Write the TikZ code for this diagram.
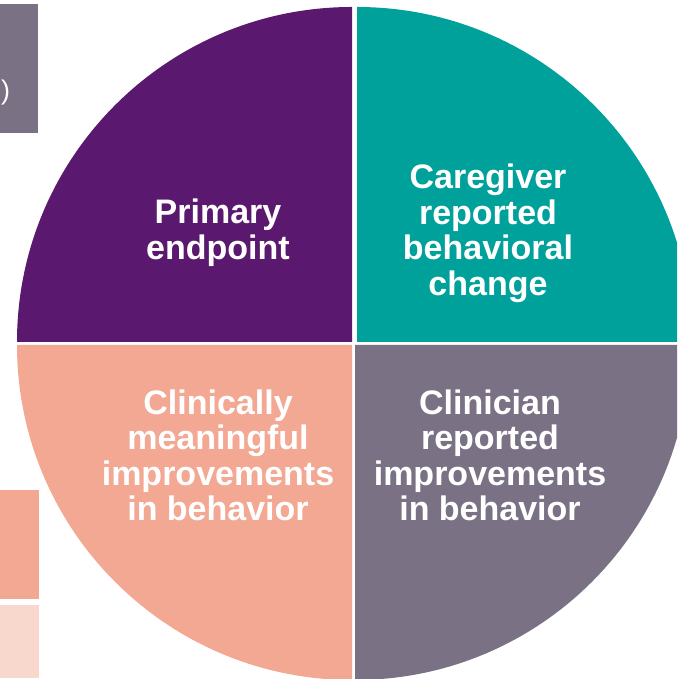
\documentclass[tikz,border=0pt]{standalone}
\usepackage{fontspec}
\setmainfont{Liberation Sans}
\usetikzlibrary{positioning}

\definecolor{quadpurple}{RGB}{90,24,110}
\definecolor{quadteal}{RGB}{0,161,155}
\definecolor{quadsalmon}{RGB}{242,168,147}
\definecolor{quadgray}{RGB}{122,113,133}
\definecolor{lightsalmon}{RGB}{248,215,205}

\begin{document}
\begin{tikzpicture}[x=1pt, y=1pt,
    every node/.style={text=white, align=center},
    quadlabel/.style={font=\bfseries\fontsize{34}{35.5}\selectfont}]
    \useasboundingbox (0,0) rectangle (677,679);
    \clip (0,0) rectangle (677,679);
    % side boxes
    \fill[quadgray] (0,546) rectangle (38,675);
    \fill[quadsalmon] (0,80) rectangle (39,189);
    \fill[lightsalmon] (0,1) rectangle (39,74);
    \node[font=\fontsize{27}{29}\selectfont, inner sep=0pt] (paren) at (5.5,586) {)};
    % quadrants
    \fill[quadpurple] (352,337) -- ++(180:335) arc (180:90:335) -- cycle;
    \fill[quadteal] (357,337) -- ++(90:335) arc (90:0:335) -- cycle;
    \fill[quadsalmon] (352,334) -- ++(180:335) arc (180:270:335) -- cycle;
    \fill[quadgray] (355,334) -- ++(270:335) arc (270:360:335) -- cycle;
    % labels
    \node[quadlabel] (primary) at (218,446.5) {Primary\\endpoint};
    \node[quadlabel] (caregiver) at (488,445.5) {Caregiver\\reported\\behavioral\\change};
    \node[quadlabel] (clinically) at (218,223.5) {Clinically\\meaningful\\improvements\\in behavior};
    \node[quadlabel] (clinician) at (490,223.5) {Clinician\\reported\\improvements\\in behavior};
\end{tikzpicture}
\end{document}
